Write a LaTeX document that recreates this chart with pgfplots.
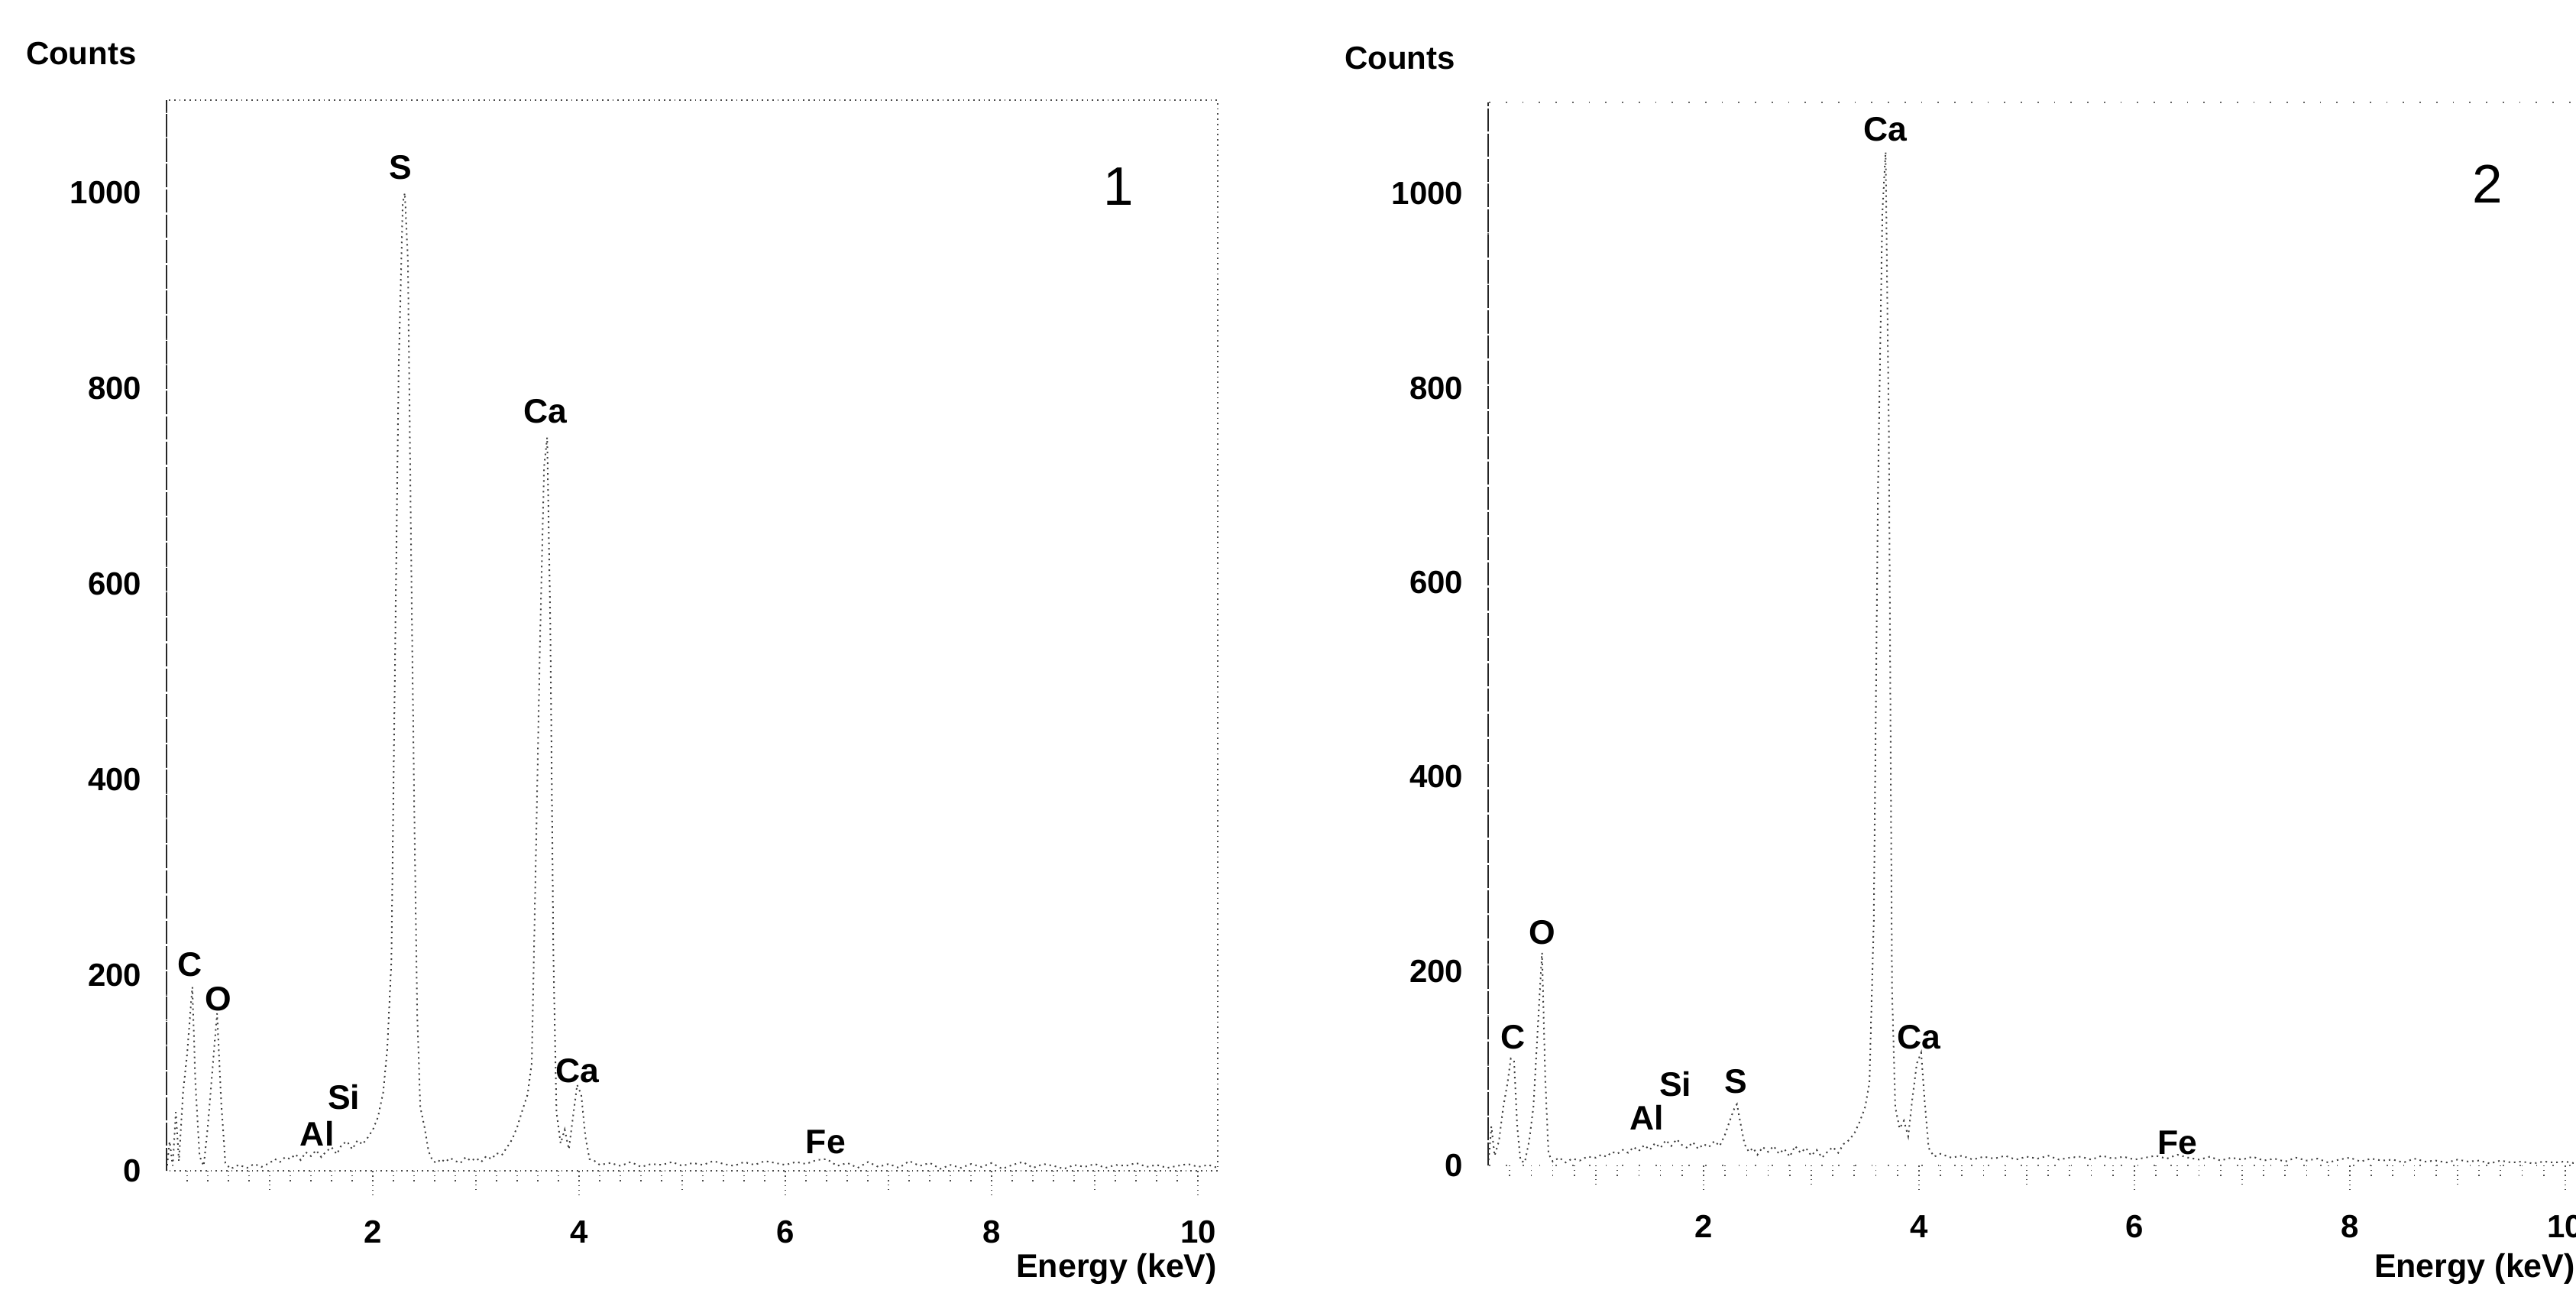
\documentclass[border=0pt]{standalone}
\usepackage{pgfplots}
\pgfplotsset{compat=1.18}
\usepackage{fontspec}
\setmainfont{Liberation Sans}

\pgfplotsset{
  eds/.style={
    scale only axis,
    ymin=0, xmin=0,
    xtick={2,4,6,8,10}, ytick={0,200,400,600,800,1000},
    minor xtick={0.2,0.4,...,10.1},
    extra x ticks={1,3,5,7,9}, extra x tick labels={},
    extra x tick style={major tick length=5pt},
    tick align=outside, tick pos=left,
    major tick length=6.4pt, minor tick length=2.8pt,
    ytick style={draw=none},
    xtick style={black!70, densely dotted, line width=0.35pt},
    minor tick style={black!70, densely dotted, line width=0.35pt},
    axis line style={black!70, densely dotted, line width=0.35pt},
    /pgf/number format/assume math mode=true,
    /pgf/number format/1000 sep={},
    ticklabel style={font=\fontsize{8.4}{10}\selectfont\bfseries},
    yticklabel style={anchor=east, xshift=3.4pt},
    xticklabel style={yshift=-3.2pt},
    clip=false,
  },
  spec/.style={black!75, densely dotted, line width=0.4pt},
}
\tikzset{el/.style={font=\fontsize{8.9}{10}\selectfont\bfseries, inner sep=0pt}}

\begin{document}
\begin{tikzpicture}
% ---------- spectrum 1 ----------
\begin{axis}[eds, at={(43.6pt,31pt)}, anchor=south west,
  width=275.2pt, height=280.2pt, xmax=10.19, ymax=1095]
\addplot[spec] coordinates {
 (0.00,0) (0.03,30) (0.06,5) (0.09,60) (0.12,10) (0.16,80) (0.20,120) (0.25,188)
 (0.28,90) (0.32,15) (0.36,5) (0.40,45) (0.45,110) (0.49,161) (0.53,70) (0.57,8)
 (0.62,2) (0.70,6) (0.78,3) (0.85,7) (0.92,4) (1.00,8) (1.05,12) (1.10,9)
 (1.15,14) (1.20,12) (1.25,17) (1.30,11) (1.35,19) (1.40,15) (1.45,21) (1.50,14)
 (1.55,20) (1.60,24) (1.65,17) (1.70,27) (1.75,30) (1.80,22) (1.85,31) (1.90,27)
 (1.95,34) (2.00,42) (2.05,55) (2.10,80) (2.14,125) (2.18,215) (2.21,480)
 (2.25,820) (2.29,990) (2.31,1000) (2.34,930) (2.37,640) (2.40,380) (2.43,160)
 (2.46,65) (2.50,45) (2.54,20) (2.58,10) (2.62,8) (2.66,12) (2.70,9) (2.75,13)
 (2.80,10) (2.85,8) (2.90,14) (2.95,10) (3.00,13) (3.05,9) (3.10,15) (3.15,12)
 (3.20,18) (3.25,16) (3.30,24) (3.35,32) (3.40,45) (3.45,62) (3.50,78) (3.54,110)
 (3.58,320) (3.62,540) (3.66,720) (3.69,750) (3.72,560) (3.75,220) (3.78,60)
 (3.82,28) (3.86,42) (3.90,22) (3.94,55) (3.98,88) (4.02,78) (4.06,35) (4.10,12)
 (4.15,10) (4.20,6) (4.30,8) (4.40,5) (4.50,9) (4.60,4) (4.70,7) (4.80,6)
 (4.90,9) (5.00,5) (5.10,8) (5.20,6) (5.30,10) (5.40,7) (5.50,5) (5.60,9)
 (5.70,6) (5.80,10) (5.90,8) (6.00,6) (6.10,9) (6.20,7) (6.30,11) (6.40,12)
 (6.50,5) (6.60,8) (6.70,3) (6.80,9) (6.90,4) (7.00,7) (7.10,3) (7.20,10)
 (7.30,5) (7.40,8) (7.50,2) (7.60,6) (7.70,3) (7.80,7) (7.90,4) (8.00,8)
 (8.10,2) (8.20,6) (8.30,9) (8.40,3) (8.50,7) (8.60,5) (8.70,2) (8.80,6)
 (8.90,4) (9.00,7) (9.10,3) (9.20,6) (9.30,5) (9.40,8) (9.50,4) (9.60,6)
 (9.70,3) (9.80,5) (9.90,7) (10.00,4) (10.10,6) (10.19,3)
};
\draw[black!85, line width=0.5pt, dash pattern=on 6pt off 0.6pt]
  (rel axis cs:0,0) -- (rel axis cs:0,1);
\node[el] at (axis cs:0.23,211) {C};
\node[el] at (axis cs:0.50,176) {O};
\node[el] at (axis cs:1.46,38) {Al};
\node[el] at (axis cs:1.72,75) {Si};
\node[el] at (axis cs:2.27,1026) {S};
\node[el] at (axis cs:3.67,777) {Ca};
\node[el] at (axis cs:3.98,102) {Ca};
\node[el] at (axis cs:6.39,29) {Fe};
\end{axis}

% ---------- spectrum 2 ----------
\begin{axis}[eds, at={(389.6pt,32.4pt)}, anchor=south west,
  width=287.6pt, height=278.2pt, xmax=10.2, ymax=1094,
  axis line style={black!60, loosely dotted, line width=0.35pt}]
\addplot[spec] coordinates {
 (0.00,0) (0.03,40) (0.06,10) (0.10,25) (0.14,60) (0.18,85) (0.21,110) (0.24,108)
 (0.27,40) (0.30,5) (0.34,3) (0.38,25) (0.42,60) (0.46,140) (0.50,219) (0.53,90)
 (0.56,12) (0.60,4) (0.66,8) (0.72,3) (0.78,7) (0.85,5) (0.92,9) (1.00,8)
 (1.05,11) (1.10,9) (1.15,14) (1.20,12) (1.25,16) (1.30,13) (1.35,19) (1.40,15)
 (1.45,21) (1.50,16) (1.55,23) (1.60,18) (1.65,26) (1.70,20) (1.75,27) (1.80,21)
 (1.85,18) (1.90,24) (1.95,17) (2.00,22) (2.05,19) (2.10,25) (2.15,20) (2.20,32)
 (2.25,48) (2.29,60) (2.31,63) (2.34,45) (2.38,22) (2.42,14) (2.46,18) (2.50,11)
 (2.55,19) (2.60,14) (2.65,20) (2.70,12) (2.75,17) (2.80,9) (2.85,20) (2.90,13)
 (2.95,18) (3.00,10) (3.05,16) (3.10,8) (3.15,14) (3.20,19) (3.25,13) (3.30,22)
 (3.35,26) (3.40,33) (3.45,45) (3.50,60) (3.54,85) (3.58,250) (3.62,700)
 (3.66,980) (3.69,1043) (3.72,760) (3.75,180) (3.78,60) (3.82,38) (3.86,46)
 (3.90,30) (3.94,70) (3.98,105) (4.02,116) (4.05,70) (4.09,18) (4.14,9) (4.20,12)
 (4.30,8) (4.40,10) (4.50,6) (4.60,9) (4.70,7) (4.80,10) (4.90,6) (5.00,9)
 (5.10,7) (5.20,10) (5.30,6) (5.40,8) (5.50,9) (5.60,6) (5.70,10) (5.80,7)
 (5.90,9) (6.00,6) (6.10,8) (6.20,10) (6.30,7) (6.40,11) (6.50,8) (6.60,6)
 (6.70,9) (6.80,5) (6.90,8) (7.00,6) (7.10,9) (7.20,5) (7.30,7) (7.40,4)
 (7.50,8) (7.60,5) (7.70,7) (7.80,3) (7.90,6) (8.00,8) (8.10,4) (8.20,7)
 (8.30,5) (8.40,6) (8.50,3) (8.60,7) (8.70,4) (8.80,5) (8.90,3) (9.00,6)
 (9.10,4) (9.20,5) (9.30,2) (9.40,5) (9.50,3) (9.60,4) (9.70,2) (9.80,4)
 (9.90,3) (10.00,4) (10.10,2) (10.20,3)
};
\draw[black!85, line width=0.5pt, dash pattern=on 6pt off 0.6pt]
  (rel axis cs:0,0) -- (rel axis cs:0,1);
\node[el] at (axis cs:0.23,132) {C};
\node[el] at (axis cs:0.50,240) {O};
\node[el] at (axis cs:1.47,49) {Al};
\node[el] at (axis cs:1.74,84) {Si};
\node[el] at (axis cs:2.30,86) {S};
\node[el] at (axis cs:3.69,1066) {Ca};
\node[el] at (axis cs:4.00,132) {Ca};
\node[el] at (axis cs:6.40,23) {Fe};
\end{axis}

% ---------- texts around ----------
\node[anchor=west, inner sep=0pt, font=\fontsize{8.4}{10}\selectfont\bfseries] at (6.6pt,323.4pt) {Counts};
\node[anchor=west, inner sep=0pt, font=\fontsize{8.4}{10}\selectfont\bfseries] at (351.8pt,322.2pt) {Counts};
\node[anchor=east, inner sep=0pt, font=\fontsize{8.6}{10}\selectfont\bfseries] at (318.8pt,5.4pt) {Energy (keV)};
\node[anchor=west, inner sep=0pt, font=\fontsize{8.6}{10}\selectfont\bfseries] at (621.4pt,5.4pt) {Energy (keV)};
\node[inner sep=0pt, font=\fontsize{14.2}{16}\selectfont] at (292.8pt,288.6pt) {1};
\node[inner sep=0pt, font=\fontsize{14.2}{16}\selectfont] at (651.2pt,289.2pt) {2};

\pgfresetboundingbox
\useasboundingbox (0,0) rectangle (674.4pt,337.4pt);
\end{tikzpicture}
\end{document}
